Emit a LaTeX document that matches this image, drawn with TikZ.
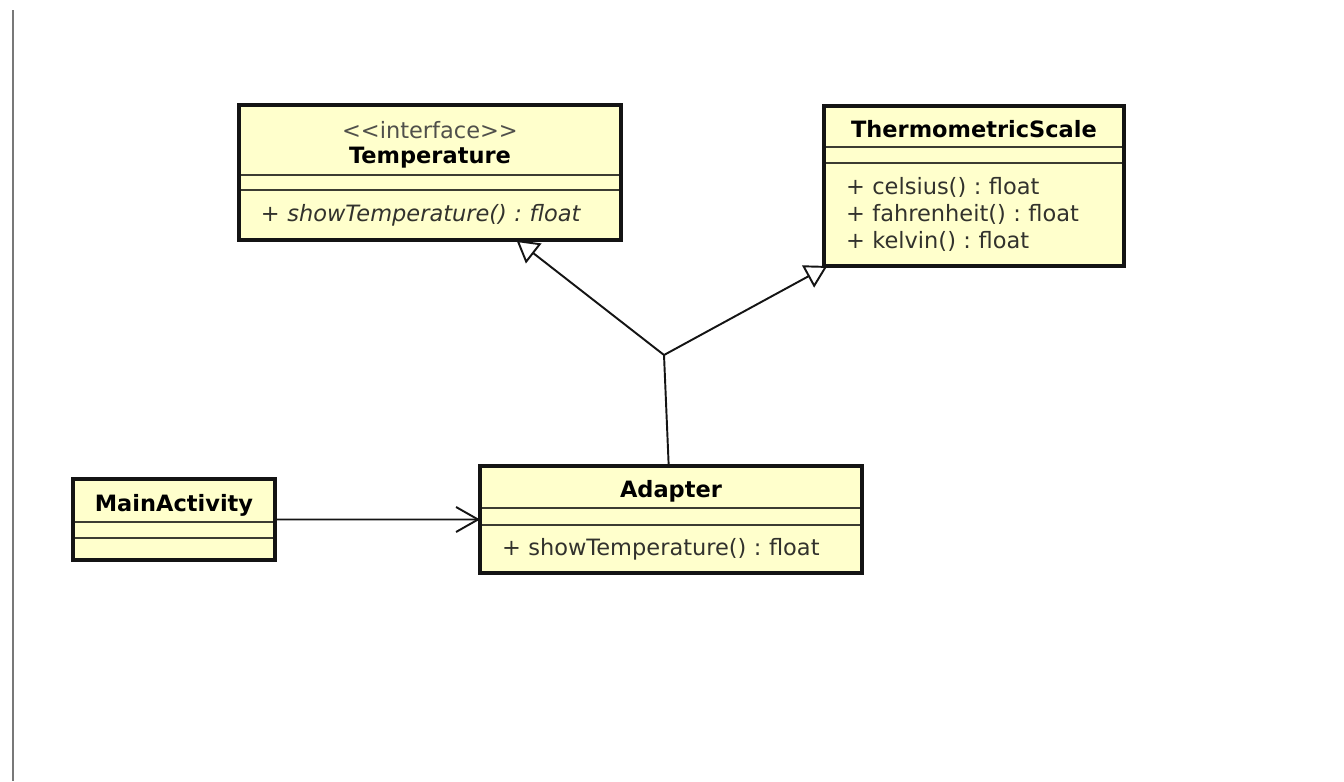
\documentclass[tikz,border=0pt]{standalone}
\usepackage{fontspec}
\setmainfont{DejaVu Sans}[Ligatures=TeXOff]
\usepackage{xcolor}
\usetikzlibrary{positioning,fit,arrows.meta}
\frenchspacing

\definecolor{umlfill}{RGB}{255,255,204}
\definecolor{umlline}{RGB}{20,20,20}
\definecolor{sepline}{RGB}{60,60,50}
\definecolor{membertext}{RGB}{50,50,45}
\definecolor{stereotext}{RGB}{80,80,75}
\definecolor{pageline}{RGB}{120,120,120}

\tikzset{
  compart/.style={draw=sepline, line width=0.9pt, fill=umlfill, outer sep=0pt, inner sep=0pt, font=\fontsize{12.8}{15.4}\selectfont},
  cname/.style={compart, font=\fontsize{12.8}{14.2}\selectfont\bfseries, text=black, align=center, text height=12pt, text depth=0pt},
  cattr/.style={compart},
  cops/.style={compart, text=membertext, align=left, inner xsep=0.44cm},
  classframe/.style={draw=umlline, line width=2pt, inner sep=0pt, outer sep=0pt},
  assoc/.style={draw=umlline, line width=1.1pt, -{Straight Barb[length=0.44cm,width=0.5cm]}},
  realize/.style={draw=umlline, line width=1.1pt, -{Triangle[open,fill=white,length=0.44cm,width=0.5cm]}},
}

\begin{document}
\begin{tikzpicture}[x=0.02cm, y=-0.02cm]
\useasboundingbox (0,0) rectangle (1344,781);
\draw[pageline, line width=1.2pt] (13,10) -- (13,781);

% interface
\node[cname, text height=26.2pt, minimum width=7.64cm, minimum height=1.4cm, anchor=north west] (tname) at (239,105) {{\mdseries\color{stereotext}<<interface>>}\\Temperature};
\node[cattr, minimum width=7.64cm, minimum height=0.3cm, below=0pt of tname] (tattr) {};
\node[cops, text width=6.76cm, minimum height=1.0cm, below=0pt of tattr] (tops) {\itshape + showTemperature() : float};
\node[classframe, fit=(tname)(tops)] (temperature) {};

% adaptee
\node[cname, minimum width=6cm, minimum height=0.82cm, anchor=north west] (sname) at (824,106) {ThermometricScale};
\node[cattr, minimum width=6cm, minimum height=0.32cm, below=0pt of sname] (sattr) {};
\node[cops, text width=5.12cm, minimum height=2.06cm, below=0pt of sattr] (sops) {+ celsius() : float\\+ fahrenheit() : float\\+ kelvin() : float};
\node[classframe, fit=(sname)(sops)] (scale) {};

% client
\node[cname, minimum width=4.04cm, minimum height=0.86cm, anchor=north west] (mname) at (73,479) {MainActivity};
\node[cattr, minimum width=4.04cm, minimum height=0.32cm, below=0pt of mname] (mattr) {};
\node[cattr, minimum width=4.04cm, minimum height=0.44cm, below=0pt of mattr] (mops) {};
\node[classframe, fit=(mname)(mops)] (mainactivity) {};

% adapter
\node[cname, minimum width=7.64cm, minimum height=0.84cm, anchor=north west] (aname) at (480,466) {Adapter};
\node[cattr, minimum width=7.64cm, minimum height=0.34cm, below=0pt of aname] (aattr) {};
\node[cops, text width=6.76cm, minimum height=0.96cm, below=0pt of aattr] (aops) {+ showTemperature() : float};
\node[classframe, fit=(aname)(aops)] (adapter) {};

\coordinate (join) at (664,355);
\draw[realize] (join) -- (temperature);
\draw[realize] (join) -- (scale);
\draw[umlline, line width=1.1pt] (join) -- (adapter);
\draw[assoc] (mainactivity) -- (adapter);
\end{tikzpicture}
\end{document}
